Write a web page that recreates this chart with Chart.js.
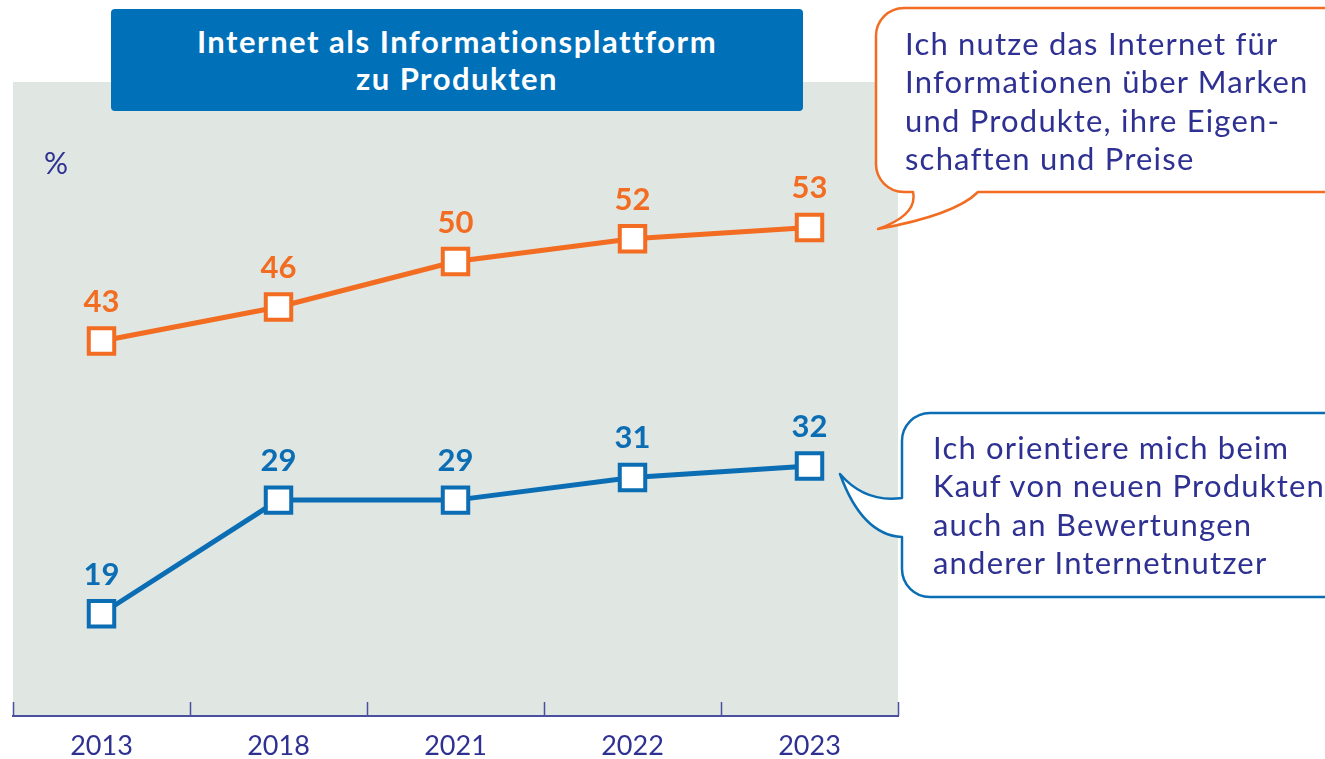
<!DOCTYPE html>
<html lang="de">
<head>
<meta charset="utf-8">
<title>Internet als Informationsplattform zu Produkten</title>
<script src="https://cdn.jsdelivr.net/npm/chart.js@4.4.1/dist/chart.umd.min.js"></script>
<style>
    body { margin: 0; background: #ffffff; }
    #wrap { position: relative; width: 1325px; height: 759px; overflow: hidden; }
    #chart { position: absolute; left: 0; top: 0; }
    .txt { position: absolute; font-family: Lato, "Noto Sans", sans-serif; color: #2e3192; }
    #title {
        left: 111px; top: 9px; width: 692px; height: 102px; background: #0070b8; border-radius: 4px;
        color: #ffffff; font-weight: bold; font-size: 31px; line-height: 37px; text-align: center;
        letter-spacing: 1.5px; box-sizing: border-box; padding-top: 14px;
    }
    #pct { left: 44px; top: 144px; font-size: 30px; }
    .bubble { font-size: 31px; line-height: 38.3px; letter-spacing: 1.2px; white-space: nowrap; }
    #b1 { left: 905px; top: 24px; }
    #b2 { left: 933px; top: 428px; }
</style>
</head>
<body>
<div id="wrap">
    <canvas id="chart" width="1325" height="759"></canvas>
    <div id="title" class="txt">Internet als Informationsplattform<br>zu Produkten</div>
    <div id="pct" class="txt">%</div>
    <div id="b1" class="txt bubble">Ich nutze das Internet für<br>Informationen über Marken<br>und Produkte, ihre Eigen-<br>schaften und Preise</div>
    <div id="b2" class="txt bubble">Ich orientiere mich beim<br>Kauf von neuen Produkten<br>auch an Bewertungen<br>anderer Internetnutzer</div>
</div>
<script>
const years = ["2013", "2018", "2021", "2022", "2023"]
const infoMarken = [43, 46, 50, 52, 53]
const bewertungen = [19, 29, 29, 31, 32]

const orange = "#f26c21"
const blue = "#0b6db3"
const indigo = "#2e3192"

// grey panel behind the plot
const panelPlugin = {
    id: "panel",
    beforeDraw(chart) {
        const a = chart.chartArea
        const ctx = chart.ctx
        ctx.save()
        ctx.fillStyle = "#e0e6e2"
        ctx.fillRect(a.left, a.top, a.right - a.left, a.bottom - a.top)
        ctx.restore()
    }
}

// small tick marks pointing up from the x axis, at category borders
const tickPlugin = {
    id: "upTicks",
    afterDraw(chart) {
        const xs = chart.scales.x
        const ctx = chart.ctx
        const n = years.length
        const step = (xs.right - xs.left) / n
        ctx.save()
        ctx.strokeStyle = "#4a4fa0"
        ctx.lineWidth = 1.5
        for (let i = 0; i <= n; i++) {
            const px = Math.round(xs.left + i * step) + 0.5
            ctx.beginPath()
            ctx.moveTo(px, xs.top - 14)
            ctx.lineTo(px, xs.top)
            ctx.stroke()
        }
        ctx.restore()
    }
}

// value labels above each marker
const labelPlugin = {
    id: "valueLabels",
    afterDatasetsDraw(chart) {
        const ctx = chart.ctx
        ctx.save()
        ctx.font = "bold 31px Lato, 'Noto Sans', sans-serif"
        ctx.textAlign = "center"
        ctx.textBaseline = "middle"
        chart.data.datasets.forEach((ds, i) => {
            const meta = chart.getDatasetMeta(i)
            meta.data.forEach((pt, j) => {
                ctx.fillStyle = ds.borderColor
                ctx.fillText(String(ds.data[j]), pt.x, pt.y - 39)
            })
        })
        ctx.restore()
    }
}

// speech bubbles on the right
const bubblePlugin = {
    id: "bubbles",
    afterDraw(chart) {
        const ctx = chart.ctx
        ctx.save()
        ctx.lineWidth = 2.5
        ctx.lineJoin = "round"

        // orange bubble, tail at bottom left
        let l = 876, t = 8, r = 1360, b = 192, rad = 28
        ctx.beginPath()
        ctx.moveTo(l + rad, t)
        ctx.lineTo(r - rad, t)
        ctx.arcTo(r, t, r, t + rad, rad)
        ctx.lineTo(r, b - rad)
        ctx.arcTo(r, b, r - rad, b, rad)
        ctx.lineTo(978, b)
        ctx.quadraticCurveTo(955, 215, 878, 229)
        ctx.quadraticCurveTo(918, 215, 913, b)
        ctx.lineTo(l + rad, b)
        ctx.arcTo(l, b, l, b - rad, rad)
        ctx.lineTo(l, t + rad)
        ctx.arcTo(l, t, l + rad, t, rad)
        ctx.closePath()
        ctx.fillStyle = "#ffffff"
        ctx.fill()
        ctx.strokeStyle = orange
        ctx.stroke()

        // blue bubble, tail on the left side
        l = 902; t = 413; r = 1360; b = 597; rad = 28
        ctx.beginPath()
        ctx.moveTo(l + rad, t)
        ctx.lineTo(r - rad, t)
        ctx.arcTo(r, t, r, t + rad, rad)
        ctx.lineTo(r, b - rad)
        ctx.arcTo(r, b, r - rad, b, rad)
        ctx.lineTo(l + rad, b)
        ctx.arcTo(l, b, l, b - rad, rad)
        ctx.lineTo(l, 537)
        ctx.quadraticCurveTo(862, 535, 840, 474)
        ctx.quadraticCurveTo(865, 503, l, 498)
        ctx.lineTo(l, t + rad)
        ctx.arcTo(l, t, l + rad, t, rad)
        ctx.closePath()
        ctx.fillStyle = "#ffffff"
        ctx.fill()
        ctx.strokeStyle = blue
        ctx.stroke()
        ctx.restore()
    }
}

const ctx = document.getElementById("chart").getContext("2d")
const chart = new Chart(ctx, {
    type: "line",
    data: {
        labels: years,
        datasets: [{
            label: "Informationen über Marken und Produkte",
            data: infoMarken,
            borderColor: orange,
            borderWidth: 5,
            pointStyle: "rect",
            pointRadius: 18,
            pointBorderWidth: 4,
            pointBackgroundColor: "#ffffff",
            pointBorderColor: orange,
            tension: 0
        }, {
            label: "Bewertungen anderer Internetnutzer",
            data: bewertungen,
            borderColor: blue,
            borderWidth: 5,
            pointStyle: "rect",
            pointRadius: 18,
            pointBorderWidth: 4,
            pointBackgroundColor: "#ffffff",
            pointBorderColor: blue,
            tension: 0
        }]
    },
    options: {
        responsive: false,
        animation: false,
        layout: { autoPadding: false, padding: { left: 13, right: 427, top: 82, bottom: -18 } },
        plugins: {
            legend: { display: false },
            title: { display: false },
            tooltip: { enabled: false }
        },
        scales: {
            x: {
                offset: true,
                grid: { display: false, drawTicks: false },
                border: { display: true, color: "#4a4fa0", width: 2 },
                ticks: {
                    color: indigo,
                    padding: 17,
                    font: { family: "Lato, 'Noto Sans', sans-serif", size: 27, lineHeight: 1 }
                }
            },
            y: {
                display: false,
                min: 10,
                max: 65.8
            }
        }
    },
    plugins: [panelPlugin, tickPlugin, labelPlugin, bubblePlugin]
})
</script>
</body>
</html>
